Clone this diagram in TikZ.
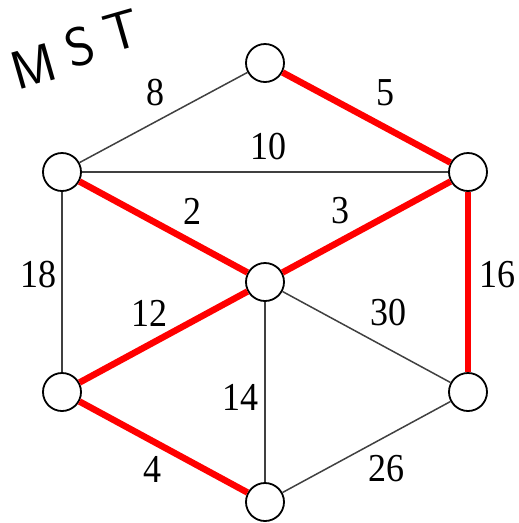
\documentclass[tikz,border=0pt]{standalone}
\usepackage{fontspec}
\setmainfont{Liberation Serif}
\begin{document}
\begin{tikzpicture}[x=1pt,y=-1pt,
  vtx/.style={circle,draw=black,line width=1.8pt,fill=white,minimum size=38pt,inner sep=0pt},
  thin/.style={draw=black!75,line width=1.5pt},
  mst/.style={draw=red,line width=6.5pt},
  lbl/.style={font=\fontsize{36}{36}\selectfont,inner sep=0pt,yscale=1.1},
  hand/.style={font=\sffamily\fontsize{54}{54}\selectfont,inner sep=0pt,rotate=16}]
\useasboundingbox (0,0) rectangle (519,523);
\node[vtx] (T) at (265,63) {};
\node[vtx] (LU) at (62,172) {};
\node[vtx] (RU) at (468,172) {};
\node[vtx] (C) at (265,282) {};
\node[vtx] (LL) at (62,392) {};
\node[vtx] (RL) at (468,392) {};
\node[vtx] (B) at (265,502) {};
\draw[thin] (T) -- (LU);
\draw[thin] (LU) -- (RU);
\draw[thin] (LU) -- (LL);
\draw[thin] (C) -- (RL);
\draw[thin] (C) -- (B);
\draw[thin] (RL) -- (B);
\draw[mst] (T) -- (RU);
\draw[mst] (LU) -- (C);
\draw[mst] (RU) -- (C);
\draw[mst] (RU) -- (RL);
\draw[mst] (C) -- (LL);
\draw[mst] (LL) -- (B);
\node[lbl] (l8) at (155,93) {8};
\node[lbl] (l5) at (385,93) {5};
\node[lbl] (l10) at (268,147) {10};
\node[lbl] (l2) at (192,211) {2};
\node[lbl] (l3) at (340,211) {3};
\node[lbl] (l18) at (38,275) {18};
\node[lbl] (l16) at (497,275) {16};
\node[lbl] (l12) at (149,313) {12};
\node[lbl] (l30) at (388,313) {30};
\node[lbl] (l14) at (240,397) {14};
\node[lbl] (l4) at (152,469) {4};
\node[lbl] (l26) at (386,469) {26};
\node[hand] (hM) at (34,66) {M};
\node[hand] (hS) at (80,47) {S};
\node[hand] (hT) at (122,31) {T};
\end{tikzpicture}
\end{document}
